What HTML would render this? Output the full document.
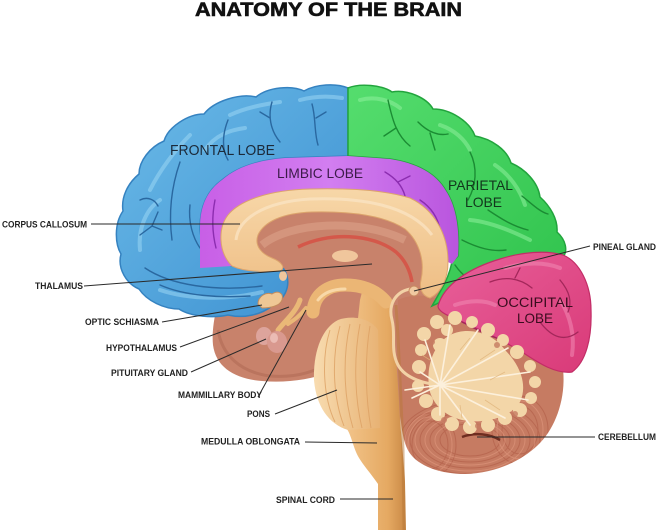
<!DOCTYPE html>
<html>
<head>
<meta charset="utf-8">
<style>
html,body{margin:0;padding:0;background:#fff;}
svg{display:block;}
text{font-family:"Liberation Sans",Arial,sans-serif;}
.lbl{font-size:9px;font-weight:bold;fill:#222;}
.ln{stroke:#2a2a2a;stroke-width:1;fill:none;}
</style>
</head>
<body>
<svg width="658" height="530" viewBox="0 0 658 530" xmlns="http://www.w3.org/2000/svg">
<defs>
<linearGradient id="gBlue" x1="0" y1="0" x2="1" y2="1">
<stop offset="0" stop-color="#6cbbe8"/><stop offset="1" stop-color="#3b8fd0"/>
</linearGradient>
<linearGradient id="gGreen" x1="0" y1="0" x2="1" y2="1">
<stop offset="0" stop-color="#55dd6e"/><stop offset="1" stop-color="#2fc24c"/>
</linearGradient>
<linearGradient id="gPurple" x1="0" y1="0" x2="1" y2="0">
<stop offset="0" stop-color="#c85fe6"/><stop offset="0.5" stop-color="#d27ef0"/><stop offset="1" stop-color="#b955de"/>
</linearGradient>
<linearGradient id="gPink" x1="0" y1="0" x2="1" y2="1">
<stop offset="0" stop-color="#e8609a"/><stop offset="1" stop-color="#d93a78"/>
</linearGradient>
<linearGradient id="gTan" x1="0" y1="0" x2="0" y2="1">
<stop offset="0" stop-color="#f7d7a8"/><stop offset="1" stop-color="#eebd84"/>
</linearGradient>
<linearGradient id="gStem" x1="0" y1="0" x2="1" y2="0">
<stop offset="0" stop-color="#f2c48a"/><stop offset="0.7" stop-color="#e5a962"/><stop offset="1" stop-color="#c98845"/>
</linearGradient>
<linearGradient id="gPons" x1="0" y1="0" x2="1" y2="0">
<stop offset="0" stop-color="#f8dcb0"/><stop offset="1" stop-color="#e8b274"/>
</linearGradient>
<clipPath id="cbClip">
<path d="M 398,300 C 415,292 435,296 446,304 C 480,322 540,340 562,362 C 568,395 556,428 538,445 C 520,462 495,473 465,474 C 440,474 418,466 409,452 C 402,440 400,420 400,400 Z"/>
</clipPath>
</defs>

<rect width="658" height="530" fill="#fff"/>

<!-- Title -->
<text x="195" y="16" font-size="19" font-weight="bold" fill="#111" stroke="#111" stroke-width="0.6" textLength="267" lengthAdjust="spacingAndGlyphs">ANATOMY OF THE BRAIN</text>

<!-- base brown interior -->
<path d="M 228,262 C 240,222 290,208 345,208 C 405,208 440,235 446,275 L 446,305 C 440,318 430,325 420,335 L 402,345 L 400,440 L 360,440 L 330,372 C 310,380 285,383 262,381 C 236,379 216,368 213,345 C 211,325 218,300 228,262 Z" fill="#c8826b"/>
<path d="M 218,330 C 222,355 240,372 270,376 C 295,378 315,372 330,362" stroke="#b06a55" stroke-width="3" fill="none" opacity="0.6"/>
<path d="M 262,245 C 290,222 360,218 405,240" stroke="#d99c85" stroke-width="8" fill="none" opacity="0.7"/>

<!-- cerebellum base -->
<path d="M 398,300 C 415,292 435,296 446,304 C 480,322 540,340 562,362 C 568,395 556,428 538,445 C 520,462 495,473 465,474 C 440,474 418,466 409,452 C 402,440 400,420 400,400 Z" fill="#c67b62"/>
<g clip-path="url(#cbClip)" fill="none" stroke-width="1">
<g stroke="#a9533f" opacity="0.45">
<ellipse cx="470" cy="440" rx="30" ry="16"/>
<ellipse cx="470" cy="440" rx="40" ry="22"/>
<ellipse cx="470" cy="440" rx="50" ry="28"/>
<ellipse cx="470" cy="440" rx="60" ry="34"/>
<ellipse cx="470" cy="440" rx="70" ry="40"/>
<ellipse cx="430" cy="445" rx="18" ry="24"/>
<ellipse cx="430" cy="445" rx="26" ry="32"/>
<ellipse cx="520" cy="430" rx="18" ry="24"/>
<ellipse cx="520" cy="430" rx="28" ry="34"/>
</g>
<g stroke="#e9a389" opacity="0.45">
<ellipse cx="470" cy="440" rx="35" ry="19"/>
<ellipse cx="470" cy="440" rx="45" ry="25"/>
<ellipse cx="470" cy="440" rx="55" ry="31"/>
<ellipse cx="470" cy="440" rx="65" ry="37"/>
<ellipse cx="430" cy="445" rx="22" ry="28"/>
<ellipse cx="520" cy="430" rx="23" ry="29"/>
</g>
<path d="M 462,437 C 475,432 490,434 500,440" stroke="#6e2d20" stroke-width="2.5"/>
</g>

<!-- Blue frontal lobe -->
<path d="M 348,88 C 336,83 316,84 304,91 C 292,85 268,87 256,97 C 240,93 214,101 204,114 C 188,114 168,127 164,141 C 150,147 139,161 139,174 C 127,184 121,198 123,211 C 114,224 115,244 121,254 C 117,269 127,284 139,289 C 147,301 164,309 179,309 C 191,317 214,318 228,315 C 245,319 262,314 272,306 C 284,300 290,288 287,276 C 285,268 280,264 272,263 L 232,266 C 212,258 200,245 200,228 C 200,205 208,190 222,180 C 238,166 260,160 285,158 L 348,156 Z" fill="url(#gBlue)" stroke="#3582c0" stroke-width="1.5"/>
<g fill="none" stroke="#9ad6f4" stroke-width="4" stroke-linecap="round" opacity="0.55">
<path d="M 150,190 C 160,170 175,150 190,135"/>
<path d="M 140,250 C 138,230 145,210 160,200"/>
<path d="M 160,290 C 190,300 230,300 262,292"/>
<path d="M 230,115 C 245,108 265,104 280,102"/>
<path d="M 300,100 C 315,96 330,96 342,98"/>
<path d="M 205,150 C 215,135 230,130 245,128"/>
</g>
<g fill="none" stroke="#2a68a0" stroke-width="1.4" stroke-linecap="round">
<path d="M 180,162 C 172,185 168,210 172,240"/>
<path d="M 140,235 L 152,226 L 158,212 M 152,226 L 162,230"/>
<path d="M 145,268 C 170,285 215,292 262,286"/>
<path d="M 160,285 C 185,296 220,298 250,296"/>
<path d="M 228,120 C 222,135 222,150 228,160"/>
<path d="M 272,102 C 268,115 270,130 280,142 M 270,118 L 260,112"/>
<path d="M 312,104 C 316,118 314,132 318,145 M 316,118 L 326,112"/>
<path d="M 190,205 C 188,222 193,238 200,248"/>
<path d="M 140,200 C 148,196 155,200 158,206"/>
</g>

<!-- Green parietal lobe -->
<path d="M 348,88 C 360,83 382,85 392,92 C 407,89 427,98 433,109 C 451,109 470,122 475,136 C 492,139 507,150 511,163 C 525,169 538,182 540,197 C 550,206 558,219 557,232 C 566,240 568,251 563,257 C 545,251 520,253 500,260 C 478,268 455,282 445,300 L 432,306 L 440,292 C 446,282 450,272 452,262 L 458,256 C 460,230 456,206 446,191 C 436,173 416,163 390,159 L 348,156 Z" fill="url(#gGreen)" stroke="#22a43d" stroke-width="1.5"/>
<g fill="none" stroke="#8ef09c" stroke-width="4" stroke-linecap="round" opacity="0.55">
<path d="M 360,100 C 375,96 390,100 400,108"/>
<path d="M 440,125 C 455,130 465,140 470,150"/>
<path d="M 495,165 C 510,175 520,190 525,205"/>
<path d="M 470,220 C 490,222 510,230 530,240"/>
<path d="M 455,285 C 470,272 490,265 510,262"/>
</g>
<g fill="none" stroke="#1b8c33" stroke-width="1.4" stroke-linecap="round">
<path d="M 388,100 C 392,118 396,135 410,146 M 396,128 L 384,136"/>
<path d="M 418,122 C 428,132 438,136 448,134 M 430,133 L 435,150"/>
<path d="M 470,152 C 478,168 476,186 468,200"/>
<path d="M 488,210 C 500,218 512,226 528,230"/>
<path d="M 462,240 C 478,248 492,252 506,250"/>
<path d="M 522,196 C 532,204 540,212 548,214"/>
<path d="M 455,265 C 462,275 470,282 482,282"/>
</g>

<!-- Purple limbic lobe -->
<path d="M 200,268 L 200,228 C 200,205 208,190 222,180 C 238,166 260,160 285,158 L 348,156 L 390,159 C 416,163 436,173 446,191 C 456,206 460,230 458,256 L 452,264 L 448,262 C 448,235 435,210 410,198 C 385,190 350,188 310,189 C 270,190 240,200 228,215 C 218,228 220,250 232,266 Z" fill="url(#gPurple)"/>
<g fill="none" stroke="#8c2db0" stroke-width="1.4" stroke-linecap="round">
<path d="M 385,172 C 395,178 402,185 405,196 M 398,182 L 410,176"/>
<path d="M 420,200 C 432,208 438,218 440,230"/>
<path d="M 215,200 C 212,215 212,232 216,248"/>
</g>

<!-- Pink occipital lobe -->
<path d="M 438,306 C 444,284 470,268 500,259 C 522,252 546,250 563,255 C 580,262 591,285 591,310 C 592,338 586,362 572,372 C 556,374 540,364 522,352 C 497,337 472,326 456,319 C 446,315 438,311 438,306 Z" fill="url(#gPink)" stroke="#c22d66" stroke-width="1.2"/>
<g fill="none" stroke="#f28ab4" stroke-width="4" stroke-linecap="round" opacity="0.55">
<path d="M 505,268 C 525,262 545,262 560,268"/>
<path d="M 560,300 C 570,315 575,335 572,355"/>
<path d="M 455,305 C 470,300 485,300 495,305"/>
</g>
<g fill="none" stroke="#a3275a" stroke-width="1.3" stroke-linecap="round">
<path d="M 490,282 C 505,276 520,278 532,288 M 515,278 L 520,268"/>
<path d="M 540,322 C 552,338 565,342 578,332"/>
<path d="M 462,322 C 478,330 492,338 505,340"/>
<path d="M 560,280 C 570,292 572,302 568,312"/>
</g>

<!-- Tan corpus callosum -->
<path d="M 232,266 C 218,252 218,228 228,215 C 240,200 270,190 310,189 C 350,188 385,190 410,198 C 435,210 448,235 448,262 C 448,278 442,292 430,298 C 422,296 419,288 421,280 C 425,262 420,242 405,229 C 386,216 352,211 312,212 C 282,213 264,222 258,235 C 254,246 262,254 272,258 C 282,262 286,268 280,271 C 265,272 245,272 232,266 Z" fill="url(#gTan)" stroke="#dca46c" stroke-width="1"/>
<path d="M 236,240 C 238,220 262,202 310,199 C 360,197 410,205 432,235" fill="none" stroke="#fbe6c6" stroke-width="3" opacity="0.7"/>

<!-- red fornix arc -->
<path d="M 298,247 C 328,232 372,233 396,252 C 405,260 410,270 412,282" fill="none" stroke="#d4584a" stroke-width="3.5"/>
<!-- thalamus blob -->
<ellipse cx="345" cy="256" rx="13" ry="6" fill="#f0c69c"/>
<ellipse cx="283" cy="276" rx="4" ry="5" fill="#f0c69c"/>

<!-- Brainstem column -->
<path d="M 362,292 C 378,288 388,294 391,305 C 395,340 398,380 400,420 C 402,445 404,465 405,482 L 406,530 L 378,530 L 378,484 C 370,472 360,462 356,452 C 352,442 350,432 346,428 L 360,300 Z" fill="url(#gStem)"/>
<path d="M 396,305 C 399,350 401,400 403,450 L 404,530" fill="none" stroke="#b87838" stroke-width="3" opacity="0.5"/>
<!-- Pons -->
<path d="M 338,320 C 322,328 313,352 314,380 C 316,405 328,424 348,430 L 380,428 L 378,330 C 370,318 352,315 338,320 Z" fill="url(#gPons)"/>
<g fill="none" stroke="#dda164" stroke-width="1" opacity="0.8">
<path d="M 330,330 C 322,355 322,395 335,422"/>
<path d="M 340,326 C 332,355 332,395 344,426"/>
<path d="M 350,324 C 343,355 343,395 353,428"/>
<path d="M 360,324 C 354,355 354,395 362,428"/>
<path d="M 370,326 C 365,355 365,395 371,428"/>
</g>
<!-- upper midbrain arch -->
<path d="M 313,312 C 314,294 328,285 345,285 C 362,285 376,290 386,302" fill="none" stroke="#ebb675" stroke-width="13" stroke-linecap="round"/>
<path d="M 318,300 C 325,291 335,289 345,289" fill="none" stroke="#f8d8a8" stroke-width="3" stroke-linecap="round"/>

<!-- optic chiasma / hypothalamus structures -->
<path d="M 258,304 C 258,296 266,292 272,294 C 278,290 284,293 282,300 C 280,306 270,308 262,308 Z" fill="#efc795" stroke="#c48c5c" stroke-width="1"/>
<path d="M 300,300 C 296,312 286,320 278,330" fill="none" stroke="#eab877" stroke-width="5" stroke-linecap="round"/>
<path d="M 306,308 C 300,316 294,320 288,324" fill="none" stroke="#eab877" stroke-width="4" stroke-linecap="round"/>
<!-- pituitary -->
<ellipse cx="264" cy="336" rx="8" ry="9" fill="#dda49c"/>
<ellipse cx="277" cy="342" rx="10" ry="11" fill="#d9998f"/>
<ellipse cx="274" cy="338" rx="4" ry="5" fill="#f2cbc3" opacity="0.7"/>

<!-- tan strand and pineal -->
<path d="M 410,289 C 395,292 388,305 392,320 C 396,335 390,350 398,365 C 405,378 425,385 445,385" fill="none" stroke="#f2d2a6" stroke-width="3"/>
<circle cx="414" cy="291" r="5" fill="#f0c9a0" stroke="#c98a62" stroke-width="1"/>

<!-- cerebellum tree -->
<g fill="#f3d6a8">
<path d="M 430,392 C 425,370 432,345 450,335 C 470,325 495,335 505,350 C 520,365 528,385 520,402 C 510,418 485,424 462,420 C 445,416 434,405 430,392 Z"/>
<circle cx="424" cy="334" r="7"/><circle cx="437" cy="322" r="7"/><circle cx="455" cy="318" r="7"/>
<circle cx="447" cy="330" r="6"/><circle cx="472" cy="322" r="6"/><circle cx="488" cy="330" r="7"/>
<circle cx="503" cy="340" r="6"/><circle cx="517" cy="352" r="7"/><circle cx="530" cy="366" r="6"/>
<circle cx="535" cy="382" r="6"/><circle cx="531" cy="398" r="6"/><circle cx="520" cy="410" r="7"/>
<circle cx="505" cy="418" r="7"/><circle cx="488" cy="425" r="7"/><circle cx="470" cy="427" r="7"/>
<circle cx="452" cy="424" r="7"/><circle cx="438" cy="414" r="7"/><circle cx="426" cy="401" r="7"/>
<circle cx="418" cy="386" r="6"/><circle cx="419" cy="367" r="7"/><circle cx="421" cy="350" r="6"/>
<circle cx="440" cy="345" r="7"/><circle cx="512" cy="372" r="7"/><circle cx="500" cy="400" r="7"/>
</g>
<g fill="#c67b62" opacity="0.8">
<circle cx="432" cy="342" r="3"/><circle cx="464" cy="328" r="3"/><circle cx="497" cy="345" r="3"/>
<circle cx="524" cy="374" r="3"/><circle cx="515" cy="414" r="3"/><circle cx="478" cy="426" r="3"/>
<circle cx="444" cy="420" r="3"/><circle cx="422" cy="376" r="3"/>
</g>
<g fill="none" stroke="#fcf0dc" stroke-width="1.6" stroke-linecap="round">
<path d="M 440,385 L 425,340 M 440,385 L 450,325 M 440,385 L 478,330 M 440,385 L 508,348 M 440,385 L 530,372 M 440,385 L 528,400 M 440,385 L 505,418 M 440,385 L 470,425 M 440,385 L 440,415 M 440,385 L 420,372"/>
<path d="M 440,385 L 412,398 M 405,390 L 440,385"/>
</g>
<g fill="none" stroke="#e0b47c" stroke-width="0.8" opacity="0.8">
<path d="M 460,350 L 470,338 M 480,360 L 495,350 M 490,380 L 505,372 M 485,400 L 500,410 M 460,405 L 462,418 M 430,360 L 422,355"/>
</g>

<!-- Lobe labels -->
<text x="170" y="155" font-size="15" fill="#1c2a3a" textLength="105" lengthAdjust="spacingAndGlyphs">FRONTAL LOBE</text>
<text x="277" y="178" font-size="14" fill="#3b1a48" textLength="86" lengthAdjust="spacingAndGlyphs">LIMBIC LOBE</text>
<text x="448" y="190" font-size="14" fill="#12361c" textLength="65" lengthAdjust="spacingAndGlyphs">PARIETAL</text>
<text x="465" y="207" font-size="14" fill="#12361c" textLength="37" lengthAdjust="spacingAndGlyphs">LOBE</text>
<text x="497" y="307" font-size="14" fill="#3a0c1e" textLength="76" lengthAdjust="spacingAndGlyphs">OCCIPITAL</text>
<text x="517" y="323" font-size="14" fill="#3a0c1e" textLength="36" lengthAdjust="spacingAndGlyphs">LOBE</text>

<!-- Leader lines -->
<line class="ln" x1="91" y1="224" x2="240" y2="224"/>
<line class="ln" x1="84" y1="286" x2="372" y2="264"/>
<line class="ln" x1="162" y1="322" x2="262" y2="305"/>
<line class="ln" x1="180" y1="347" x2="289" y2="307"/>
<line class="ln" x1="191" y1="372" x2="266" y2="339"/>
<line class="ln" x1="258" y1="397" x2="306" y2="310"/>
<line class="ln" x1="275" y1="414" x2="337" y2="390"/>
<line class="ln" x1="305" y1="442" x2="377" y2="443"/>
<line class="ln" x1="340" y1="499" x2="393" y2="499"/>
<line class="ln" x1="477" y1="437" x2="595" y2="437"/>
<line class="ln" x1="414" y1="291" x2="590" y2="246"/>

<!-- Small labels -->
<text class="lbl" x="2" y="227.5" textLength="85" lengthAdjust="spacingAndGlyphs">CORPUS CALLOSUM</text>
<text class="lbl" x="35" y="289" textLength="48" lengthAdjust="spacingAndGlyphs">THALAMUS</text>
<text class="lbl" x="85" y="325" textLength="74" lengthAdjust="spacingAndGlyphs">OPTIC SCHIASMA</text>
<text class="lbl" x="106" y="351" textLength="71" lengthAdjust="spacingAndGlyphs">HYPOTHALAMUS</text>
<text class="lbl" x="111" y="376" textLength="77" lengthAdjust="spacingAndGlyphs">PITUITARY GLAND</text>
<text class="lbl" x="178" y="398" textLength="84" lengthAdjust="spacingAndGlyphs">MAMMILLARY BODY</text>
<text class="lbl" x="247" y="417" textLength="23" lengthAdjust="spacingAndGlyphs">PONS</text>
<text class="lbl" x="201" y="444.5" textLength="99" lengthAdjust="spacingAndGlyphs">MEDULLA OBLONGATA</text>
<text class="lbl" x="276" y="503" textLength="59" lengthAdjust="spacingAndGlyphs">SPINAL CORD</text>
<text class="lbl" x="598" y="440" textLength="58" lengthAdjust="spacingAndGlyphs">CEREBELLUM</text>
<text class="lbl" x="593" y="250" textLength="63" lengthAdjust="spacingAndGlyphs">PINEAL GLAND</text>
</svg>
</body>
</html>
